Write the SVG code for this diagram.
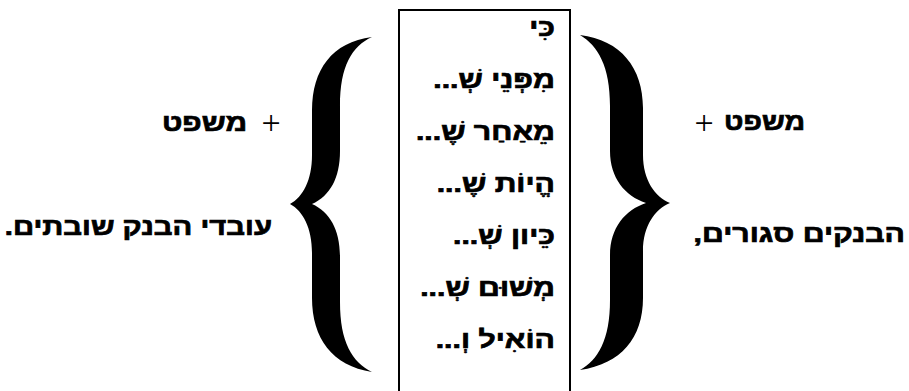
<svg xmlns="http://www.w3.org/2000/svg" width="909" height="391" viewBox="0 0 909 391">
<style>
.t{font-family:"Liberation Sans","DejaVu Sans",sans-serif;font-weight:bold;font-size:24px;fill:#000;stroke:#000;stroke-width:0.7;direction:rtl;unicode-bidi:embed;text-anchor:start}
.p{font-family:"Liberation Serif","DejaVu Serif",serif;font-size:34px;fill:#000;text-anchor:middle}
.br{fill:#000;stroke:none}
</style>
<rect width="909" height="391" fill="#fff"/>
<g id="box">
<rect x="399" y="10" width="171" height="400" fill="none" stroke="#000" stroke-width="2"/>
<text class="t" transform="translate(555,36) scale(1.26,1)">כִּי</text>
<text class="t" transform="translate(555,88) scale(1.26,1)">מִפְּנֵי שְׁ...</text>
<text class="t" transform="translate(555,140) scale(1.26,1)">מֵאַחַר שֶׁ...</text>
<text class="t" transform="translate(555,192) scale(1.26,1)">הֱיוֹת שֶׁ...</text>
<text class="t" transform="translate(555,244) scale(1.26,1)">כֵּיון שְׁ...</text>
<text class="t" transform="translate(555,296) scale(1.26,1)">מְשׁוּם שְׁ...</text>
<text class="t" transform="translate(555,348) scale(1.26,1)">הוֹאִיל וְ...</text>
</g>
<g id="left-brace">
<path class="br" d="M372,37 C332,42 312,70 312,110 L312,155 C312,180 303,197 290,204 C303,211 312,228 312,253 L312,298 C312,338 332,366 372,372 C352,362 340,342 340,302 L340,257 C340,230 330,212 312,204 C330,196 340,178 340,151 L340,106 C340,66 352,46 372,37 Z"/>
</g>
<g id="right-brace">
<path class="br" d="M580,35 C621,40 643,68 643,108 L643,155 C643,180 655,197 670,203 C655,209 643,226 643,251 L643,298 C643,338 621,364 580,370 C598,360 610,340 610,300 L610,255 C610,228 625,210 646,203 C625,196 610,178 610,151 L610,106 C610,66 598,46 580,35 Z"/>
</g>
<g id="left-text">
<text class="t" transform="translate(247,131) scale(1.24,1)">משפט</text>
<text class="p" x="271" y="134">+</text>
<text class="t" transform="translate(272,235) scale(1.22,1)">עובדי הבנק שובתים.</text>
</g>
<g id="right-text">
<text class="p" x="704" y="134">+</text>
<text class="t" transform="translate(805,130) scale(1.18,1)">משפט</text>
<text class="t" transform="translate(905,242) scale(1.26,1)">הבנקים סגורים,</text>
</g>
</svg>
